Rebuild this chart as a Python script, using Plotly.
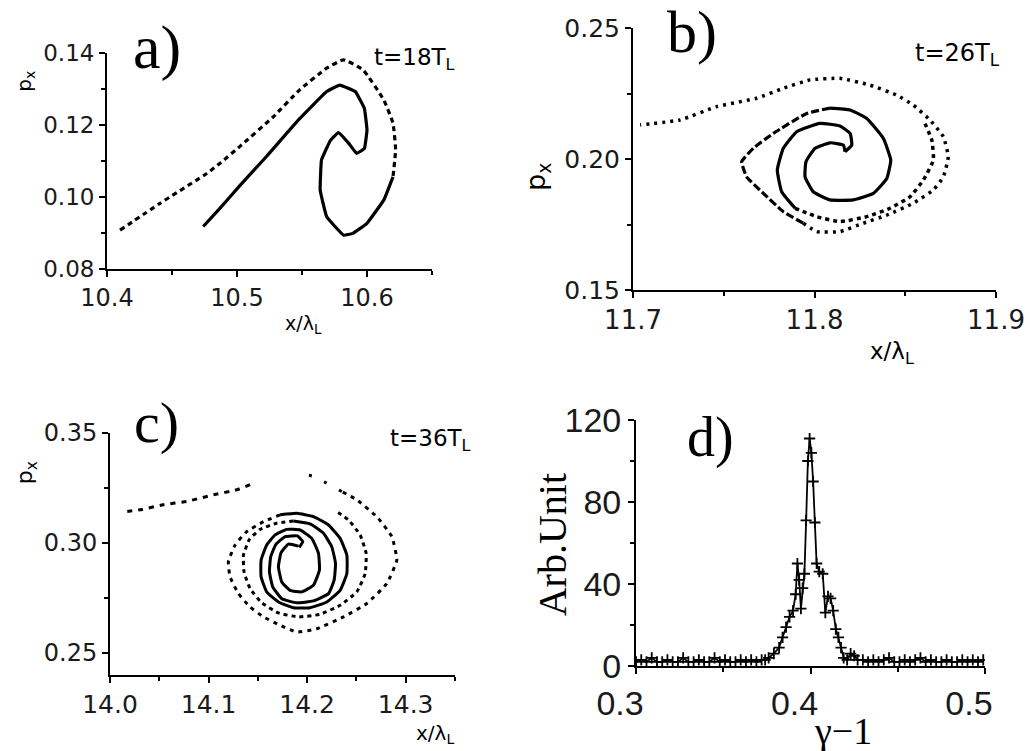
import plotly.graph_objects as go

# ---------------- Panel a (t = 18 T_L) ----------------
a_sparse_x = [10.410, 10.441, 10.477, 10.487, 10.502, 10.528, 10.548, 10.569, 10.582, 10.597, 10.613, 10.620, 10.622, 10.620]
a_sparse_y = [0.0908, 0.0983, 0.1066, 0.1094, 0.1140, 0.1223, 0.1297, 0.1358, 0.1381, 0.1353, 0.1269, 0.1205, 0.1131, 0.1056]
a_dense_x = [10.620, 10.613, 10.600, 10.589, 10.582, 10.569, 10.564, 10.565, 10.572, 10.578, 10.586, 10.592, 10.598,
             10.600, 10.598, 10.591, 10.579, 10.569, 10.548, 10.523, 10.502, 10.487, 10.474]
a_dense_y = [0.1056, 0.0992, 0.0927, 0.0899, 0.0894, 0.0945, 0.1019, 0.1103, 0.1158, 0.1179, 0.1149, 0.1121, 0.1135,
             0.1186, 0.1246, 0.1293, 0.1311, 0.1293, 0.1217, 0.1114, 0.1031, 0.0969, 0.0918]

# ---------------- Panel b (t = 26 T_L) ----------------
b_armB_dense_x = [11.8168, 11.8159, 11.8085, 11.8003, 11.7953, 11.7948, 11.7993, 11.8085, 11.8214, 11.8324, 11.8398,
                  11.8420, 11.8379, 11.8288, 11.8196, 11.8085]
b_armB_dense_y = [0.2028, 0.2053, 0.2062, 0.2041, 0.1990, 0.1932, 0.1875, 0.1844, 0.1844, 0.1869, 0.1926,
                  0.1996, 0.2079, 0.2155, 0.2187, 0.2194]
b_armB_mid_x = [11.8085, 11.7957, 11.7773, 11.7663, 11.7599, 11.7626, 11.7718, 11.7828, 11.7938]
b_armB_mid_y = [0.2194, 0.2174, 0.2098, 0.2041, 0.1990, 0.1932, 0.1869, 0.1799, 0.1755]
b_armB_outer_x = [11.7938, 11.8012, 11.8140, 11.8269, 11.8398, 11.8544, 11.8655, 11.8710, 11.8737, 11.8710, 11.8636,
                  11.8544, 11.8453, 11.8306, 11.8140, 11.7975, 11.7828, 11.7681, 11.7461, 11.7259, 11.7039]
b_armB_outer_y = [0.1755, 0.1723, 0.1723, 0.1755, 0.1786, 0.1831, 0.1882, 0.1932, 0.2009, 0.2085, 0.2149,
                  0.2206, 0.2244, 0.2282, 0.2308, 0.2302, 0.2270, 0.2232, 0.2200, 0.2149, 0.2130]
b_armA_dense_x = [11.8168, 11.8205, 11.8196, 11.8140, 11.8030, 11.7902, 11.7828, 11.7795, 11.7819, 11.7893]
b_armA_dense_y = [0.2028, 0.2053, 0.2098, 0.2126, 0.2136, 0.2104, 0.2041, 0.1958, 0.1875, 0.1812]
b_armA_sparse_x = [11.7893, 11.8012, 11.8140, 11.8288, 11.8416, 11.8526, 11.8600, 11.8655, 11.8646, 11.8600]
b_armA_sparse_y = [0.1812, 0.1780, 0.1761, 0.1780, 0.1812, 0.1856, 0.1920, 0.1996, 0.2073, 0.2149]

# ---------------- Panel c (t = 36 T_L) ----------------
c_arm1_dense_x = [14.1912, 14.1810, 14.1736, 14.1709, 14.1743, 14.1827, 14.1946, 14.2064, 14.2125, 14.2115, 14.2047,
                  14.1929, 14.1794, 14.1675, 14.1590, 14.1533, 14.1533, 14.1590, 14.1709, 14.1861, 14.2030, 14.2200,
                  14.2335, 14.2403, 14.2403, 14.2335, 14.2217, 14.2064, 14.1895, 14.1726]
c_arm1_dense_y = [0.2986, 0.2995, 0.2956, 0.2892, 0.2823, 0.2785, 0.2778, 0.2808, 0.2877, 0.2953, 0.3021,
                  0.3059, 0.3062, 0.3037, 0.2991, 0.2922, 0.2846, 0.2778, 0.2732, 0.2706, 0.2706, 0.2732,
                  0.2785, 0.2861, 0.2945, 0.3021, 0.3082, 0.3120, 0.3135, 0.3128]
c_arm1_sparse_x = [14.1726, 14.1557, 14.1387, 14.1269, 14.1201, 14.1218, 14.1303, 14.1421, 14.1557, 14.1726, 14.1895,
                   14.2098, 14.2369, 14.2606, 14.2809, 14.2910, 14.2860, 14.2707, 14.2504, 14.2352]
c_arm1_sparse_y = [0.3128, 0.3097, 0.3052, 0.2991, 0.2915, 0.2846, 0.2770, 0.2709, 0.2664, 0.2626, 0.2595,
                   0.2610, 0.2664, 0.2725, 0.2816, 0.2922, 0.3029, 0.3120, 0.3196, 0.3234]
c_top_x = [14.2352, 14.2064, 14.1878]
c_top_y = [0.3234, 0.3303, 0.3318]
c_tail_x = [14.1421, 14.1286, 14.1049, 14.0914, 14.0778, 14.0541, 14.0305, 14.0169]
c_tail_y = [0.3265, 0.3242, 0.3219, 0.3204, 0.3189, 0.3174, 0.3151, 0.3143]
c_arm2_dense_x = [14.1919, 14.1956, 14.1902, 14.1777, 14.1685, 14.1631, 14.1618, 14.1651, 14.1743, 14.1895, 14.2064,
                  14.2217, 14.2274, 14.2288, 14.2250, 14.2166, 14.2030, 14.1861]
c_arm2_dense_y = [0.2980, 0.3006, 0.3032, 0.3029, 0.2995, 0.2938, 0.2869, 0.2801, 0.2747, 0.2728, 0.2737,
                  0.2770, 0.2831, 0.2907, 0.2983, 0.3044, 0.3087, 0.3100]
c_arm2_sparse_x = [14.1861, 14.1692, 14.1523, 14.1415, 14.1354, 14.1360, 14.1421, 14.1540, 14.1709, 14.1912, 14.2132,
                   14.2335, 14.2504, 14.2589, 14.2599, 14.2538, 14.2420, 14.2301]
c_arm2_sparse_y = [0.3100, 0.3090, 0.3062, 0.3017, 0.2945, 0.2869, 0.2793, 0.2728, 0.2682, 0.2664, 0.2676,
                   0.2717, 0.2778, 0.2861, 0.2953, 0.3037, 0.3105, 0.3143]

# ---------------- Panel d (energy spectrum) ----------------
d_gamma = [0.300, 0.303, 0.306, 0.309, 0.312, 0.315, 0.318, 0.321, 0.324, 0.327, 0.330, 0.333, 0.336,
           0.339, 0.342, 0.345, 0.348, 0.351, 0.354, 0.357, 0.360, 0.363, 0.366, 0.369, 0.372, 0.374,
           0.376, 0.379, 0.382, 0.384, 0.386, 0.388, 0.390, 0.3915, 0.3925, 0.3935, 0.3945, 0.3955,
           0.3965, 0.3975, 0.3985, 0.3995, 0.4005, 0.4015, 0.4025, 0.4035, 0.405, 0.407, 0.4085, 0.410,
           0.4115, 0.413, 0.4145, 0.416, 0.4175, 0.419, 0.421, 0.423, 0.425, 0.427, 0.430, 0.433, 0.436,
           0.439, 0.442, 0.445, 0.448, 0.451, 0.454, 0.457, 0.460, 0.463, 0.466, 0.469, 0.472, 0.475,
           0.478, 0.481, 0.484, 0.487, 0.490, 0.493, 0.496, 0.499]
d_counts = [2, 3, 2, 4, 2, 2, 3, 2, 2, 4, 2, 2, 3,
            2, 2, 4, 2, 3, 2, 2, 3, 2, 3, 2, 3, 3,
            4, 6, 9, 14, 19, 24, 27, 35, 50, 42, 28, 38,
            45, 71, 100, 111, 104, 90, 70, 50, 46, 45, 26, 34,
            33, 27, 18, 14, 9, 4, 3, 6, 5, 3, 3, 2, 3,
            2, 3, 4, 2, 2, 3, 2, 3, 4, 2, 3, 2, 2,
            3, 2, 2, 3, 2, 3, 2, 3]

INK = "black"
SPARSE = "5px,4px"

fig = go.Figure()


def add_line(x, y, xa, ya, dash="solid", width=3.2, smooth=0.4):
    fig.add_trace(go.Scatter(x=x, y=y, xaxis=xa, yaxis=ya, mode="lines",
                             line=dict(color=INK, width=width, dash=dash, shape="spline", smoothing=smooth),
                             showlegend=False, hoverinfo="skip"))


# panel a
add_line(a_sparse_x, a_sparse_y, "x", "y", dash=SPARSE)
add_line(a_dense_x, a_dense_y, "x", "y", smooth=0.25)
# panel b
add_line(b_armB_dense_x, b_armB_dense_y, "x2", "y2")
add_line(b_armB_mid_x, b_armB_mid_y, "x2", "y2", dash="8px,3px")
add_line(b_armB_outer_x, b_armB_outer_y, "x2", "y2", dash="3px,5px", width=3.5)
add_line(b_armA_dense_x, b_armA_dense_y, "x2", "y2")
add_line(b_armA_sparse_x, b_armA_sparse_y, "x2", "y2", dash="4px,4px", width=3.5)
# panel c
add_line(c_arm1_dense_x, c_arm1_dense_y, "x3", "y3", width=3)
add_line(c_arm1_sparse_x, c_arm1_sparse_y, "x3", "y3", dash="4px,5px", width=3)
add_line(c_top_x, c_top_y, "x3", "y3", dash="3px,14px", width=3)
add_line(c_tail_x, c_tail_y, "x3", "y3", dash="5px,6px", width=3)
add_line(c_arm2_dense_x, c_arm2_dense_y, "x3", "y3", width=3)
add_line(c_arm2_sparse_x, c_arm2_sparse_y, "x3", "y3", dash="4px,4px", width=3)
# panel d
fig.add_trace(go.Scatter(x=d_gamma, y=d_counts, xaxis="x4", yaxis="y4", mode="lines+markers",
                         line=dict(color=INK, width=1.8),
                         marker=dict(symbol="cross-thin", size=8, line=dict(color=INK, width=1.8)),
                         showlegend=False, hoverinfo="skip"))

TICKFONT = dict(family="DejaVu Sans", color="#1a1a1a")


def axis(domain, rng, tickvals, ticktext, minor_dtick, size, anchor, shift=0, minor0=None):
    d = dict(domain=domain, range=rng, anchor=anchor, automargin=False, showline=True, linecolor=INK, linewidth=2,
             ticks="outside", ticklen=6, tickwidth=2, tickcolor=INK, tickvals=tickvals, ticktext=ticktext,
             tickfont=dict(size=size, **TICKFONT), showgrid=False, zeroline=False, fixedrange=True,
             minor=dict(ticks="outside", ticklen=4, tickwidth=1.5, tickcolor=INK, dtick=minor_dtick,
                        tick0=rng[0] if minor0 is None else minor0, showgrid=False))
    if shift:
        d["ticklabelshift"] = shift
    return d


fig.update_layout(
    template="none",
    width=1030, height=751, margin=dict(l=0, r=0, t=0, b=0, autoexpand=False),
    paper_bgcolor="white", plot_bgcolor="white",
    xaxis=axis([0.1039, 0.4194], [10.4, 10.65], [10.4, 10.5, 10.6], ["10.4", "10.5", "10.6"], 0.05, 24, "y"),
    yaxis=axis([0.6418, 0.9294], [0.08, 0.14], [0.08, 0.10, 0.12, 0.14], ["0.08", "0.10", "0.12", "0.14"], 0.01, 23, "x"),
    xaxis2=axis([0.6146, 0.9670], [11.7, 11.9], [11.7, 11.8, 11.9], ["11.7", "11.8", "11.9"], 0.05, 26, "y2"),
    yaxis2=axis([0.6138, 0.9627], [0.15, 0.25], [0.15, 0.20, 0.25], ["0.15", "0.20", "0.25"], 0.025, 25, "x2"),
    xaxis3=axis([0.1068, 0.4417], [14.0, 14.35], [14.0, 14.1, 14.2, 14.3], ["14.0", "14.1", "14.2", "14.3"], 0.05, 25, "y3"),
    yaxis3=axis([0.1012, 0.4234], [0.24, 0.35], [0.25, 0.30, 0.35], ["0.25", "0.30", "0.35"], 0.025, 24, "x3", minor0=0.25),
    xaxis4=axis([0.6175, 0.9563], [0.3, 0.5], [0.3, 0.4, 0.5], ["0.3", "0.4", "0.5"], 0.05, 34, "y4", shift=-16),
    yaxis4=axis([0.1132, 0.4407], [0, 120], [0, 40, 80, 120], ["0", "40", "80", "120"], 20, 34, "x4"),
)
fig.layout.xaxis4.tickfont.family = "Liberation Sans Narrow, Liberation Sans, sans-serif"
fig.layout.yaxis4.tickfont.family = "Liberation Sans Narrow, Liberation Sans, sans-serif"

SERIF = "Liberation Serif, Times New Roman, serif"
SANS = "DejaVu Sans, sans-serif"


def note(text, x, y, size, family, angle=0):
    fig.add_annotation(text=text, x=x, y=y, xref="paper", yref="paper", xanchor="center", yanchor="middle",
                       showarrow=False, textangle=angle, font=dict(size=size, family=family, color=INK))


# panel labels
note("a)", 0.152, 0.937, 62, SERIF)
note("b)", 0.672, 0.958, 60, SERIF)
note("c)", 0.152, 0.438, 58, SERIF)
note("d)", 0.690, 0.418, 56, SERIF)
# time labels
note("t=18T<sub>L</sub>", 0.402, 0.922, 23, SANS)
note("t=26T<sub>L</sub>", 0.930, 0.927, 24, SANS)
note("t=36T<sub>L</sub>", 0.418, 0.414, 23, SANS)
# axis titles
note("p<sub>x</sub>", 0.024, 0.892, 20, SANS, -90)
note("p<sub>x</sub>", 0.522, 0.764, 27, SANS, -90)
note("p<sub>x</sub>", 0.026, 0.371, 22, SANS, -90)
note("Arb.Unit", 0.536, 0.274, 40, SERIF, -90)
note("x/λ<sub>L</sub>", 0.295, 0.568, 19, SANS)
note("x/λ<sub>L</sub>", 0.866, 0.530, 23, SANS)
note("x/λ<sub>L</sub>", 0.422, 0.022, 20, SANS)
note("γ−1", 0.818, 0.026, 38, SERIF)

fig.write_html("out.html", config={"displayModeBar": False},
               post_script="document.body.style.margin='0';")
